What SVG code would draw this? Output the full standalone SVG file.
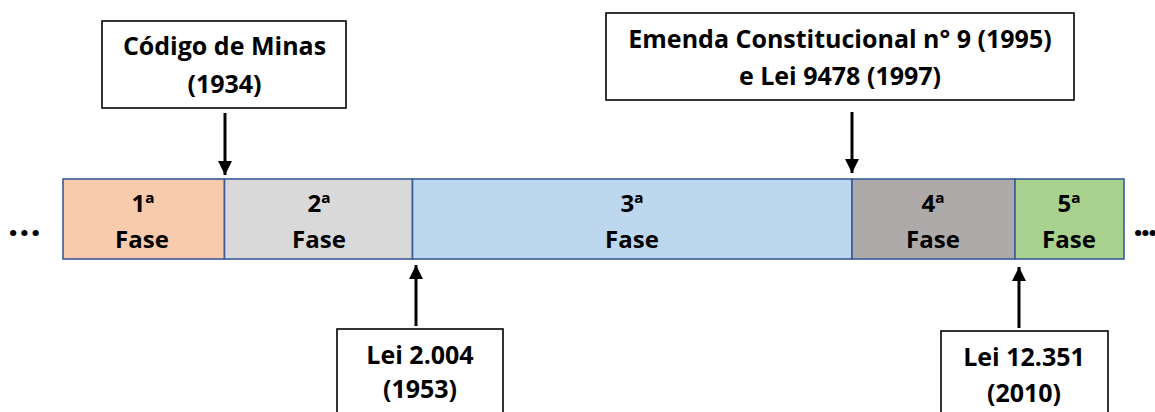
<svg xmlns="http://www.w3.org/2000/svg" width="1155" height="412" viewBox="0 0 1155 412">
<style>
.t{font-family:"Open Sans","Liberation Sans",sans-serif;font-weight:700;fill:#000;text-anchor:middle}
.d{font-family:"Open Sans","Liberation Sans",sans-serif;font-weight:700;fill:#000;font-size:36px}
.bx{fill:#fff;stroke:#000;stroke-width:1.6}
.seg{stroke:#3d5a99;stroke-width:1.6}
.c{stroke:#000;stroke-width:3;fill:none;marker-end:url(#ah)}
</style>
<defs>
<marker id="ah" viewBox="0 0 10 10" refX="10" refY="5" markerWidth="4.8" markerHeight="5" markerUnits="strokeWidth" orient="auto">
<path d="M0,0 L10,5 L0,10 z" fill="#000"/>
</marker>
</defs>
<rect width="1155" height="412" fill="#fff"/>
<g id="timeline">
<rect class="seg" x="63" y="179" width="161.5" height="80" fill="#f8cbad"/>
<rect class="seg" x="224.5" y="179" width="188" height="80" fill="#d9d9d9"/>
<rect class="seg" x="412.5" y="179" width="439.5" height="80" fill="#bdd7ee"/>
<rect class="seg" x="852" y="179" width="163" height="80" fill="#aeaaaa"/>
<rect class="seg" x="1015" y="179" width="109" height="80" fill="#a9d18e"/>
</g>
<g id="fase1"><text class="t" font-size="24" x="143" y="212">1ª</text><text class="t" font-size="24" x="142" y="248">Fase</text></g>
<g id="fase2"><text class="t" font-size="24" x="319" y="212">2ª</text><text class="t" font-size="24" x="319" y="248">Fase</text></g>
<g id="fase3"><text class="t" font-size="24" x="632" y="212">3ª</text><text class="t" font-size="24" x="632" y="248">Fase</text></g>
<g id="fase4"><text class="t" font-size="24" x="933" y="212">4ª</text><text class="t" font-size="24" x="933" y="248">Fase</text></g>
<g id="fase5"><text class="t" font-size="24" x="1069" y="212">5ª</text><text class="t" font-size="24" x="1069" y="248">Fase</text></g>
<g id="dots"><text class="d" x="8" y="236" letter-spacing="1">...</text><text class="d" x="1133" y="236" letter-spacing="-3">...</text></g>
<g id="codigo"><rect class="bx" x="102" y="21" width="244" height="87"/><text class="t" font-size="25" x="224.5" y="55">Código de Minas</text><text class="t" font-size="25" x="224.5" y="93">(1934)</text></g>
<g id="emenda"><rect class="bx" x="606" y="13" width="468" height="87"/><text class="t" font-size="25" x="840" y="48">Emenda Constitucional n° 9 (1995)</text><text class="t" font-size="25" x="840" y="85">e Lei 9478 (1997)</text></g>
<g id="lei2004"><rect class="bx" x="337" y="329" width="166" height="100"/><text class="t" font-size="25" x="420" y="364">Lei 2.004</text><text class="t" font-size="25" x="420" y="398">(1953)</text></g>
<g id="lei12351"><rect class="bx" x="941" y="331" width="167" height="100"/><text class="t" font-size="25" x="1024" y="366">Lei 12.351</text><text class="t" font-size="25" x="1024" y="402">(2010)</text></g>
<g id="connectors">
<line class="c" x1="225" y1="113" x2="225" y2="175"/>
<line class="c" x1="852" y1="112" x2="852" y2="173"/>
<line class="c" x1="416" y1="326" x2="416" y2="265"/>
<line class="c" x1="1019" y1="328" x2="1019" y2="267"/>
</g>
</svg>
